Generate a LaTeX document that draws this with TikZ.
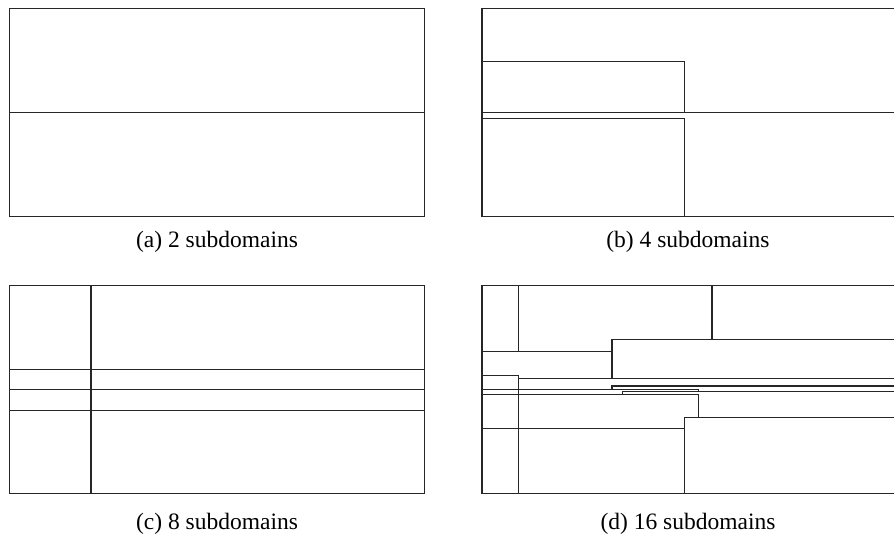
\documentclass[tikz,border=0pt]{standalone}
\usepackage{fontspec}
\setmainfont{Liberation Serif}
\begin{document}
\begin{tikzpicture}[x=1pt,y=-1pt,
  part/.style={line width=1.1pt,draw=black!85,line cap=rect},
  caption/.style={font=\fontsize{23.5}{28}\selectfont,inner sep=0pt}]
\useasboundingbox[fill=white] (0,0) rectangle (894,541);

% (a) two subdomains
\draw[part] (9.5,8.7) rectangle (424.3,216.7);
\draw[part] (9.5,112.2) -- (424.3,112.2);

% (b) four subdomains (domain runs past the right edge)
\draw[part] (894,8.7) -- (482,8.7) -- (482,216.7) -- (894,216.7);
\draw[part] (482,61.7) -- (684.3,61.7) -- (684.3,112.7);
\draw[part] (482,112.7) -- (894,112.7);
\draw[part] (482,118.3) -- (684.3,118.3) -- (684.3,216.7);

% (c) eight subdomains
\draw[part] (9.5,285.5) rectangle (424.3,493.5);
\draw[part] (91,285.5) -- (91,493.5);
\draw[part] (9.5,369.3) -- (424.3,369.3);
\draw[part] (9.5,389.7) -- (424.3,389.7);
\draw[part] (9.5,410.3) -- (424.3,410.3);

% (d) sixteen subdomains
\draw[part] (894,285.5) -- (482,285.5) -- (482,493.7) -- (894,493.7);
\draw[part] (518.3,285.5) -- (518.3,351.7);
\draw[part] (712,285.5) -- (712,339.3);
\draw[part] (894,339.3) -- (612,339.3) -- (612,378.3);
\draw[part] (482,351.7) -- (612,351.7);
\draw[part] (482,375.3) -- (518.3,375.3) -- (518.3,493.7);
\draw[part] (518.3,378.3) -- (894,378.3);
\draw[part] (894,386) -- (612,386) -- (612,389.3);
\draw[part] (482,389.3) -- (698.3,389.3) -- (698.3,391.3);
\draw[part] (894,391.3) -- (622.7,391.3) -- (622.7,394.3);
\draw[part] (482,394.3) -- (698.3,394.3) -- (698.3,417.5);
\draw[part] (894,417.5) -- (684.3,417.5) -- (684.3,493.7);
\draw[part] (482,428.2) -- (684.3,428.2);

% captions
\node[caption] (capa) at (217,242) {(a) 2 subdomains};
\node[caption] (capb) at (688,242) {(b) 4 subdomains};
\node[caption] (capc) at (217,524) {(c) 8 subdomains};
\node[caption] (capd) at (688,524) {(d) 16 subdomains};
\end{tikzpicture}
\end{document}
